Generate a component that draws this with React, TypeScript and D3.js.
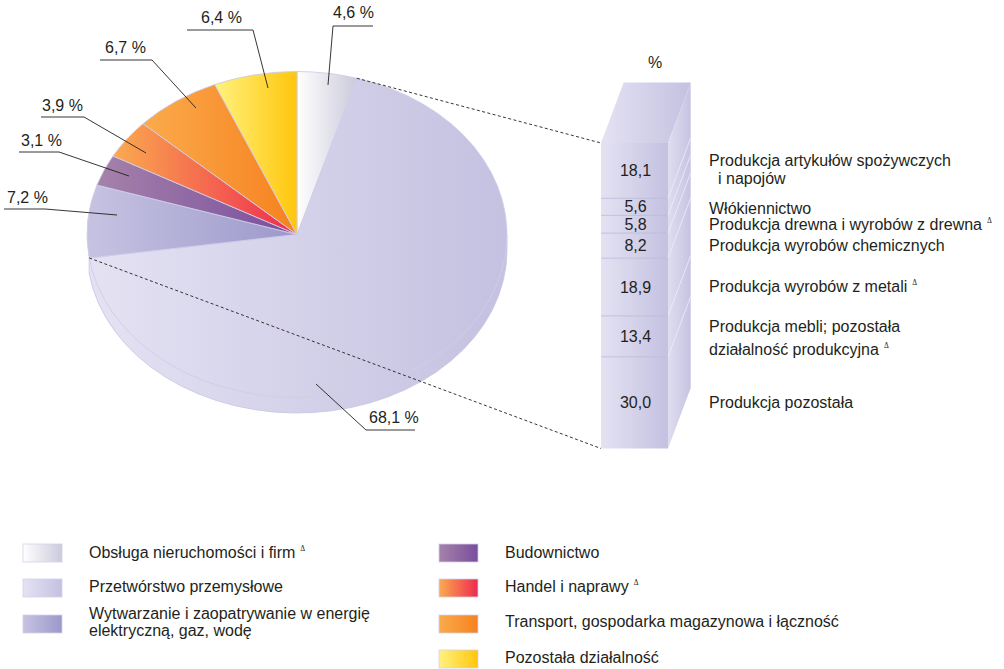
import React from "react";
import * as d3 from "d3";

const sectors = ["Obsługa nieruchomości i firm", "Przetwórstwo przemysłowe", "Wytwarzanie i zaopatrywanie w energię elektryczną, gaz, wodę", "Budownictwo", "Handel i naprawy", "Transport, gospodarka magazynowa i łączność", "Pozostała działalność"];
const sectorValues = [4.6, 68.1, 7.2, 3.1, 3.9, 6.7, 6.4];
const sectorLabels = ["4,6 %", "68,1 %", "7,2 %", "3,1 %", "3,9 %", "6,7 %", "6,4 %"];
const gradientFrom = ["#ffffff", "#e4e2f2", "#c6c3e2", "#a582aa", "#fbab4f", "#fbab4c", "#fff27f"];
const gradientTo = ["#cbcadb", "#c4c1e1", "#9c98cb", "#794d9d", "#ee2a50", "#f6811f", "#ffc60b"];

const stackNames = ["Produkcja artykułów spożywczych", "Włókiennictwo", "Produkcja drewna i wyrobów z drewna", "Produkcja wyrobów chemicznych", "Produkcja wyrobów z metali", "Produkcja mebli; pozostała", "Produkcja pozostała"];
const stackValues = [18.1, 5.6, 5.8, 8.2, 18.9, 13.4, 30.0];
const stackText = ["18,1", "5,6", "5,8", "8,2", "18,9", "13,4", "30,0"];

const W = 1004, H = 669;
const cx = 297, cy = 234.5, rx = 210, ry = 163, depth = 15.5;
const FONT = "'Liberation Sans', Arial, sans-serif";
const INK = "#231f20";
const FS = 16;

const pieGen = d3.pie<number>().sort(null).value((d) => d);
const arcGen = d3.arc<d3.PieArcDatum<number>>().innerRadius(0).outerRadius(rx);
const slices = pieGen(sectorValues);
const ptOn = (a: number): [number, number] => [cx + rx * Math.sin(a), cy - ry * Math.cos(a)];

const bx0 = 601, bx1 = 668, by0 = 143, by1 = 448.5, sdx = 22.7, sdy = -60.5;
const yStack = d3.scaleLinear().domain([0, 100]).range([by0, by1]);
const cum = d3.cumsum(stackValues);
const stackBounds = [0, ...Array.from(cum)];

// annotation layout: leader polyline, then label x / baseline
const leaders = [
  { pts: [[373, 26], [333, 26], [328, 85]], x: 333, y: 18 },
  { pts: [[415, 430], [366, 430], [316, 384]], x: 369, y: 423 },
  { pts: [[4, 209], [45, 209], [117, 215]], x: 7, y: 203 },
  { pts: [[19, 152], [59, 152], [129, 176]], x: 21, y: 146 },
  { pts: [[41, 117], [84, 117], [146, 153]], x: 42, y: 111 },
  { pts: [[100, 60], [152, 60], [196, 108]], x: 105, y: 53 },
  { pts: [[187, 30], [253, 30], [268, 88]], x: 201, y: 23 },
];
const stackBaselines = [176, 212, 230, 251, 293, 342, 408];
const nameLines: { t: string; x: number; y: number; tri?: boolean }[] = [
  { t: stackNames[0], x: 709, y: 166 },
  { t: "i napojów", x: 718, y: 184 },
  { t: stackNames[1], x: 709, y: 214 },
  { t: stackNames[2], x: 709, y: 230, tri: true },
  { t: stackNames[3], x: 709, y: 251 },
  { t: stackNames[4], x: 709, y: 292, tri: true },
  { t: stackNames[5], x: 709, y: 332 },
  { t: "działalność produkcyjna", x: 709, y: 355, tri: true },
  { t: stackNames[6], x: 709, y: 408 },
];
const legend = [
  { i: 0, x: 23, sy: 544, lines: [[sectors[0], 89, 558, true]] },
  { i: 1, x: 23, sy: 579, lines: [[sectors[1], 89, 592, false]] },
  { i: 2, x: 23, sy: 615, lines: [["Wytwarzanie i zaopatrywanie w energię", 89, 619, false], ["elektryczną, gaz, wodę", 89, 636, false]] },
  { i: 3, x: 439, sy: 544, lines: [[sectors[3], 505, 558, false]] },
  { i: 4, x: 439, sy: 579, lines: [[sectors[4], 505, 592, true]] },
  { i: 5, x: 439, sy: 615, lines: [[sectors[5], 505, 627, false]] },
  { i: 6, x: 439, sy: 650, lines: [[sectors[6], 505, 663, false]] },
] as const;

const Tri = () => (
  <tspan dx="5" dy="-7" fontSize="7.5" fontFamily="'Liberation Serif', serif">Δ</tspan>
);
const line = d3.line();

export default function App() {
  const sliceTf = `translate(${cx},${cy}) scale(1,${ry / rx})`;
  const [p1x, p1y] = ptOn(slices[1].startAngle);
  const [p2x, p2y] = ptOn(slices[1].endAngle);
  const [rEx, rEy] = ptOn(Math.PI / 2);
  const rimPath = `M${p2x},${p2y}L${p2x},${p2y + depth}A${rx},${ry} 0 0 0 ${rEx},${rEy + depth}L${rEx},${rEy}Z`;
  return (
    <svg width={W} height={H} viewBox={`0 0 ${W} ${H}`} style={{ position: "absolute", left: 0, top: 0, background: "#fff" }} fontFamily={FONT} fontSize={FS} fill={INK}>
      <defs>
        {sectors.map((_, i) => (
          <linearGradient id={`g${i}`} key={i} x1="0" x2="1" y1="0" y2="0">
            <stop offset="0" stopColor={gradientFrom[i]} />
            <stop offset="1" stopColor={gradientTo[i]} />
          </linearGradient>
        ))}
        <linearGradient id="side" x1="0" x2="1" y1="0" y2="0">
          <stop offset="0" stopColor="#dfddef" />
          <stop offset="1" stopColor="#c6c3e2" />
        </linearGradient>
      </defs>

      {/* rim */}
      <path d={rimPath} fill="url(#g1)" stroke="#cac7e5" strokeWidth={0.9} />
      {/* top face */}
      {slices.map((s, i) => (
        <path key={i} d={arcGen(s)!} transform={sliceTf} fill={`url(#g${i})`} stroke="#cfcde8" strokeWidth={0.9} vectorEffect="non-scaling-stroke" />
      ))}

      {/* connectors */}
      <g stroke="#231f20" strokeWidth={0.9} strokeDasharray="3 2.4" fill="none">
        <line x1={p1x} y1={p1y} x2={bx0} y2={by0} />
        <line x1={p2x} y1={p2y} x2={bx0} y2={by1} />
      </g>

      {/* stacked column */}
      <polygon points={`${bx0},${by0} ${bx0 + sdx},${by0 + sdy} ${bx1 + sdx},${by0 + sdy} ${bx1},${by0}`} fill="url(#g1)" />
      <polygon points={`${bx1},${by0} ${bx1 + sdx},${by0 + sdy} ${bx1 + sdx},${by1 + sdy} ${bx1},${by1}`} fill="url(#side)" />
      <rect x={bx0} y={by0} width={bx1 - bx0} height={by1 - by0} fill="url(#g1)" />
      {stackBounds.slice(1, -1).map((v, i) => (
        <g key={i}>
          <line x1={bx0} x2={bx1} y1={yStack(v)} y2={yStack(v)} stroke="#bdbadc" strokeWidth={0.8} />
          <line x1={bx1} x2={bx1 + sdx} y1={yStack(v)} y2={yStack(v) + sdy} stroke="#eeedf7" strokeWidth={0.8} />
        </g>
      ))}
      {stackText.map((t, i) => (
        <text key={i} x={635.5} y={stackBaselines[i]} textAnchor="middle">{t}</text>
      ))}
      <text x={655} y={68} textAnchor="middle">%</text>
      {nameLines.map((l, i) => (
        <text key={i} x={l.x} y={l.y}>{l.t}{l.tri ? <Tri /> : null}</text>
      ))}

      {/* leaders */}
      {leaders.map((l, i) => (
        <g key={i}>
          <path d={line(l.pts as [number, number][])!} fill="none" stroke={INK} strokeWidth={0.9} />
          <text x={l.x} y={l.y}>{sectorLabels[i]}</text>
        </g>
      ))}

      {/* legend */}
      {legend.map((e) => (
        <g key={e.i}>
          <rect x={e.x} y={e.sy} width={39} height={18} fill={`url(#g${e.i})`} stroke="#d3d1ea" strokeWidth={0.8} />
          {e.lines.map((l, j) => (
            <text key={j} x={l[1] as number} y={l[2] as number}>{l[0] as string}{l[3] ? <Tri /> : null}</text>
          ))}
        </g>
      ))}
    </svg>
  );
}
